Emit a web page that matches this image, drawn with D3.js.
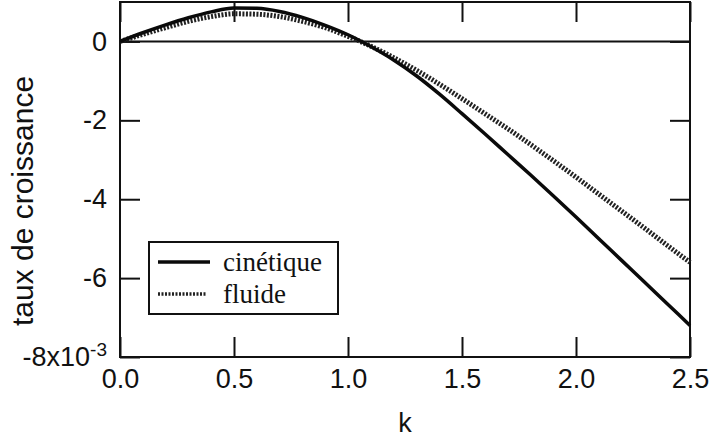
<!DOCTYPE html>
<html>
<head>
<meta charset="utf-8">
<script src="https://cdn.jsdelivr.net/npm/d3@7"></script>
<style>
  body { margin: 0; background: #fff; }
  .axis path { display: none; }
  .axis line { stroke: #111; stroke-width: 2; }
  .axis text { font-family: "Liberation Sans", Arial, sans-serif; font-size: 27px; fill: #111; }
</style>
</head>
<body>
<svg id="chart" width="709" height="441"></svg>
<script>
// growth rate (units of 1e-3) vs k
const kValues = [0, 0.1, 0.2, 0.3, 0.4, 0.5, 0.6, 0.7, 0.8, 0.9, 1.0, 1.1, 1.2, 1.3,
  1.4, 1.5, 1.6, 1.7, 1.8, 1.9, 2.0, 2.1, 2.2, 2.3, 2.4, 2.5];
const cinetique = [0, 0.22, 0.42, 0.60, 0.75, 0.85, 0.84, 0.76, 0.61, 0.41, 0.17, -0.13,
  -0.47, -0.87, -1.33, -1.83, -2.34, -2.86, -3.38, -3.91, -4.45, -5.0, -5.55, -6.1, -6.65, -7.2];
const fluide = [0, 0.18, 0.35, 0.51, 0.63, 0.70, 0.69, 0.63, 0.51, 0.35, 0.13, -0.12,
  -0.41, -0.73, -1.08, -1.45, -1.83, -2.21, -2.61, -3.02, -3.44, -3.87, -4.3, -4.73, -5.17, -5.6];
const xTicks = [0, 0.5, 1.0, 1.5, 2.0, 2.5];
const yTicks = [0, -2, -4, -6, -8];
const seriesNames = ["cinétique", "fluide"];

let margin = {top: 2, right: 19, bottom: 84, left: 120};
let widthChart = 709 - margin.left - margin.right;
let heightChart = 441 - margin.top - margin.bottom;

let svg = d3.select("#chart");
let chart = svg.append("g")
  .attr("transform", "translate(" + margin.left + "," + margin.top + ")");

let x = d3.scaleLinear().domain([0, 2.5]).range([0, widthChart]);
let y = d3.scaleLinear().domain([-8, 1]).range([heightChart, 0]);

/* axes */
chart.append("g").attr("class", "axis")
  .attr("transform", "translate(0," + heightChart + ")")
  .call(d3.axisBottom(x).tickValues(xTicks).tickSize(-20).tickPadding(12).tickFormat(d3.format(".1f")));

chart.append("g").attr("class", "axis")
  .call(d3.axisTop(x).tickValues(xTicks).tickSize(-20).tickFormat(""));

let yAxisG = chart.append("g").attr("class", "axis")
  .call(d3.axisLeft(y).tickValues(yTicks).tickSize(-20).tickPadding(13).tickFormat(d => String(d)));

yAxisG.selectAll(".tick text").each(function(d) {
  if (d === -8) {
    let t = d3.select(this).text("");
    t.append("tspan").text("-8x10");
    t.append("tspan").attr("dy", "-0.55em").style("font-size", "19px").text("-3");
  }
});

chart.append("g").attr("class", "axis")
  .attr("transform", "translate(" + widthChart + ",0)")
  .call(d3.axisRight(y).tickValues(yTicks).tickSize(-20).tickFormat(""));

/* frame + zero line */
chart.append("rect")
  .attr("width", widthChart).attr("height", heightChart)
  .attr("fill", "none").attr("stroke", "#111").attr("stroke-width", 2);
chart.append("line")
  .attr("x1", 0).attr("x2", widthChart)
  .attr("y1", y(0)).attr("y2", y(0))
  .attr("stroke", "#111").attr("stroke-width", 2);

/* curves */
let line = d3.line()
  .x((d, i) => x(kValues[i]))
  .y(d => y(d))
  .curve(d3.curveMonotoneX);

chart.append("path").datum(fluide)
  .attr("d", line)
  .attr("fill", "none").attr("stroke", "#222")
  .attr("stroke-width", 5).attr("stroke-dasharray", "2,1.5");

chart.append("path").datum(cinetique)
  .attr("d", line)
  .attr("fill", "none").attr("stroke", "#0a0a0a")
  .attr("stroke-width", 3.5);

/* axis titles */
svg.append("text").text("k")
  .attr("x", margin.left + widthChart / 2).attr("y", 432)
  .attr("text-anchor", "middle")
  .style("font-family", "Liberation Sans, Arial, sans-serif")
  .style("font-size", "27px").attr("fill", "#111");

svg.append("text").text("taux de croissance")
  .attr("transform", "translate(33,201) rotate(-90)")
  .attr("text-anchor", "middle")
  .style("font-family", "Liberation Sans, Arial, sans-serif")
  .style("font-size", "30px").attr("fill", "#111");

/* legend */
let legend = svg.append("g").attr("transform", "translate(149,242)");
legend.append("rect")
  .attr("width", 189).attr("height", 72)
  .attr("fill", "#fff").attr("stroke", "#111").attr("stroke-width", 2);

seriesNames.forEach(function(name, i) {
  let yy = 20 + i * 32;
  legend.append("line")
    .attr("x1", 9).attr("x2", i === 0 ? 61 : 58)
    .attr("y1", yy).attr("y2", yy)
    .attr("stroke", i === 0 ? "#0a0a0a" : "#222")
    .attr("stroke-width", i === 0 ? 3.5 : 3.5)
    .attr("stroke-dasharray", i === 0 ? null : "2,1.5");
  legend.append("text").text(name)
    .attr("x", 74).attr("y", yy + 9)
    .style("font-family", "Liberation Serif, Times New Roman, serif")
    .style("font-size", "27px").attr("fill", "#111");
});
</script>
</body>
</html>
